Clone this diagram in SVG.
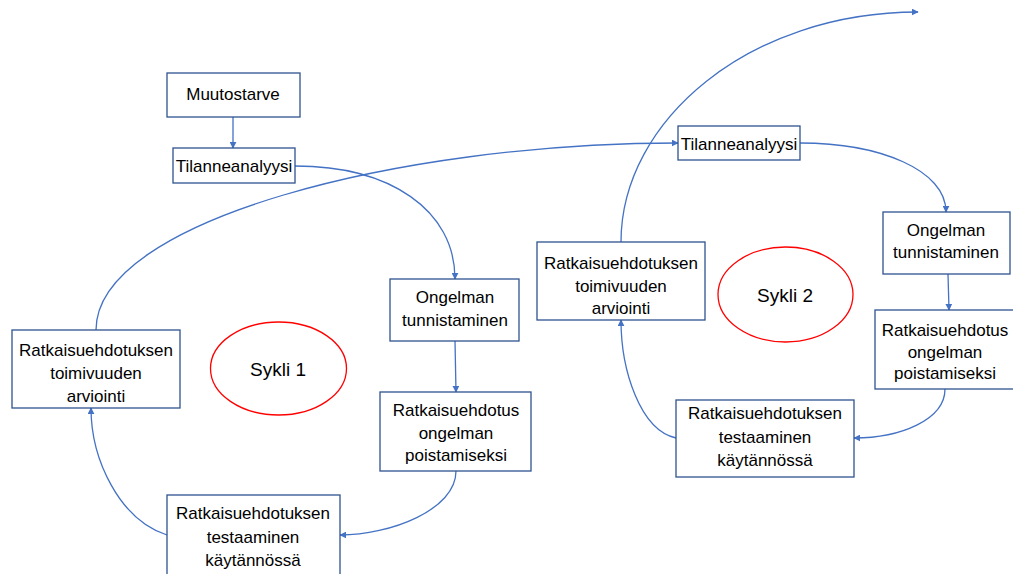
<svg xmlns="http://www.w3.org/2000/svg" width="1013" height="574" viewBox="0 0 1013 574">
<style>
.box{fill:#fff;stroke:#2F528F;stroke-width:1.3}
.t{font-family:"Liberation Sans",Arial,sans-serif;font-size:17px;fill:#000;text-anchor:middle}
.s{font-family:"Liberation Sans",Arial,sans-serif;font-size:19px;fill:#000;text-anchor:middle}
.c{fill:none;stroke:#4472C4;stroke-width:1.3;marker-end:url(#ah)}
.e{fill:#fff;stroke:#FF0000;stroke-width:1.3}
</style>
<defs>
<marker id="ah" viewBox="0 0 10 10" refX="9" refY="5" markerWidth="7" markerHeight="7" markerUnits="userSpaceOnUse" orient="auto">
<path d="M0,0 L10,5 L0,10 z" fill="#4472C4"/>
</marker>
</defs>
<rect width="1013" height="574" fill="#fff"/>
<g id="connectors">
<path class="c" d="M233,117 L233,148"/>
<path class="c" d="M295,166 C390,166 455,210 455,279"/>
<path class="c" d="M455,341 L456,392"/>
<path class="c" d="M456,471 C456,510 390,535 340,535"/>
<path class="c" d="M167,535 C120,520 91,460 91,408"/>
<path class="c" d="M96,330 C96,220 400,143 678,143"/>
<path class="c" d="M800,143 C880,143 946,170 946,212"/>
<path class="c" d="M948,274 L949,310"/>
<path class="c" d="M945,389 C945,420 900,438 854,438"/>
<path class="c" d="M676,438 C640,430 621,370 621,320"/>
<path class="c" d="M621,242 C621,120 750,12 918,12"/>
</g>
<g id="muutostarve"><rect class="box" x="167" y="73" width="133" height="44"/><text class="t" x="233" y="100">Muutostarve</text></g>
<g id="tilanne1"><rect class="box" x="173" y="148" width="122" height="35"/><text class="t" x="234" y="172">Tilanneanalyysi</text></g>
<g id="ongelma1"><rect class="box" x="390" y="279" width="129" height="62"/><text class="t" x="455" y="303">Ongelman</text><text class="t" x="455" y="326">tunnistaminen</text></g>
<g id="ratkaisu1"><rect class="box" x="380" y="392" width="151" height="79"/><text class="t" x="456" y="416">Ratkaisuehdotus</text><text class="t" x="456" y="439">ongelman</text><text class="t" x="456" y="461">poistamiseksi</text></g>
<g id="testaus1"><rect class="box" x="167" y="495" width="173" height="85"/><text class="t" x="253" y="519">Ratkaisuehdotuksen</text><text class="t" x="253" y="543">testaaminen</text><text class="t" x="253" y="566">käytännössä</text></g>
<g id="arviointi1"><rect class="box" x="12" y="330" width="168" height="78"/><text class="t" x="96" y="356">Ratkaisuehdotuksen</text><text class="t" x="96" y="379">toimivuuden</text><text class="t" x="96" y="402">arviointi</text></g>
<g id="sykli1"><ellipse class="e" cx="278.5" cy="368.5" rx="68" ry="46.5"/><text class="s" x="278" y="376">Sykli 1</text></g>
<g id="tilanne2"><rect class="box" x="678" y="126" width="122" height="34"/><text class="t" x="739" y="150">Tilanneanalyysi</text></g>
<g id="ongelma2"><rect class="box" x="883" y="212" width="127" height="62"/><text class="t" x="946" y="236">Ongelman</text><text class="t" x="946" y="258">tunnistaminen</text></g>
<g id="ratkaisu2"><rect class="box" x="875" y="310" width="140" height="79"/><text class="t" x="945" y="336">Ratkaisuehdotus</text><text class="t" x="945" y="358">ongelman</text><text class="t" x="945" y="379">poistamiseksi</text></g>
<g id="testaus2"><rect class="box" x="676" y="400" width="178" height="77"/><text class="t" x="765" y="419">Ratkaisuehdotuksen</text><text class="t" x="765" y="443">testaaminen</text><text class="t" x="765" y="466">käytännössä</text></g>
<g id="arviointi2"><rect class="box" x="537" y="242" width="168" height="78"/><text class="t" x="621" y="269">Ratkaisuehdotuksen</text><text class="t" x="621" y="292">toimivuuden</text><text class="t" x="621" y="314">arviointi</text></g>
<g id="sykli2"><ellipse class="e" cx="785.5" cy="294.5" rx="67.5" ry="47.5"/><text class="s" x="785" y="302">Sykli 2</text></g>
</svg>
